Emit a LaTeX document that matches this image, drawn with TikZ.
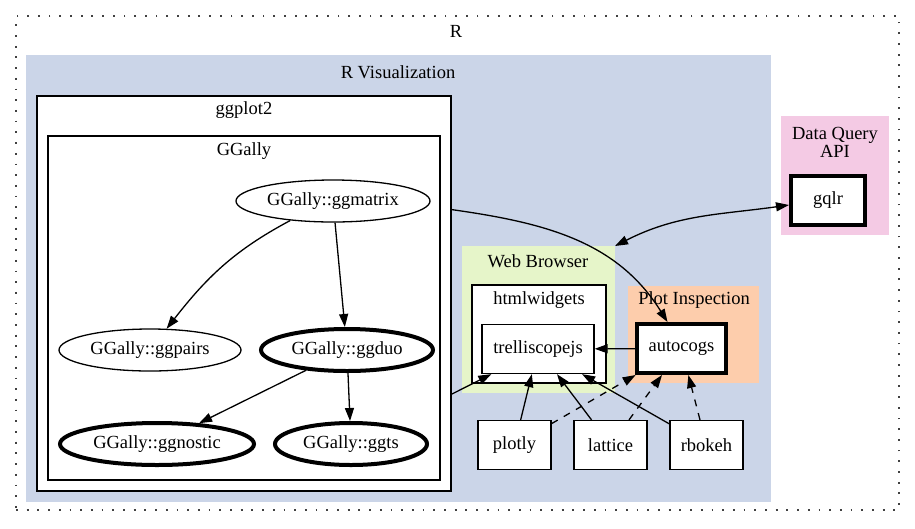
\documentclass[tikz,border=0pt]{standalone}
\usepackage{fontspec}
\setmainfont{Liberation Serif}
\usetikzlibrary{shapes.geometric,arrows.meta}
\definecolor{visblue}{HTML}{CBD5E8}
\definecolor{webgreen}{HTML}{E6F5C9}
\definecolor{insporange}{HTML}{FDCDAC}
\definecolor{apipink}{HTML}{F4CAE4}
\begin{document}
\begin{tikzpicture}[>={Triangle[length=13pt,width=9pt]}, x=1pt, y=-1pt,
  font=\fontsize{18.5}{21}\selectfont, line width=1.3pt,
  clus/.style 2 args={minimum width=#1, minimum height=#2, inner sep=0pt, outer sep=0pt},
  pkg/.style={draw, fill=white, minimum width=#1, minimum height=49pt, inner sep=0pt},
  pkg/.default=73pt,
  fn/.style={draw, ellipse, fill=white, minimum width=#1, minimum height=42pt, inner sep=0pt},
  heavy/.style={line width=4pt}]
\useasboundingbox (0,0) rectangle (915,528);
% clusters
\node[clus={883pt}{494pt}, draw=black!75, dash pattern=on 1.8pt off 8.9pt] (rbox) at (457.5,263) {};
\node[clus={745pt}{447pt}, fill=visblue] (rvis) at (398.5,278.5) {};
\node[clus={414pt}{395pt}, draw, fill=white] (ggplot2) at (244,293.5) {};
\node[clus={392pt}{344pt}, draw, fill=white] (ggally) at (244,308) {};
\node[clus={153pt}{147pt}, fill=webgreen] (webbrowser) at (538.5,319.5) {};
\node[clus={134pt}{98pt}, draw, fill=white] (htmlwidgets) at (539,334) {};
\node[clus={131pt}{97pt}, fill=insporange] (plotinsp) at (693.5,334.5) {};
\node[clus={108pt}{119pt}, fill=apipink] (dataquery) at (835,175.5) {};
\node (lblr) at (456,31) {R};
\node (lblrvis) at (398,72) {R Visualization};
\node (lblggplot2) at (244,110) {ggplot2};
\node (lblggally) at (244,151) {GGally};
\node (lblweb) at (538,261) {Web Browser};
\node (lblhtml) at (539,300) {htmlwidgets};
\node (lblinsp) at (694,300) {Plot Inspection};
\node[align=center, font=\fontsize{18.5}{18}\selectfont] (lblapi) at (835,142) {Data Query\\API};
% GGally functions
\node[fn=194pt] (ggmatrix) at (333,201) {GGally::ggmatrix};
\node[fn=182pt] (ggpairs) at (150,350) {GGally::ggpairs};
\node[fn=172pt, heavy] (ggduo) at (347,350) {GGally::ggduo};
\node[fn=194pt, heavy] (ggnostic) at (157,444) {GGally::ggnostic};
\node[fn=152pt, heavy] (ggts) at (351,444) {GGally::ggts};
% packages
\node[pkg=112pt] (trellis) at (538,349) {trelliscopejs};
\node[pkg=89pt, heavy] (autocogs) at (681.5,348.5) {autocogs};
\node[pkg] (plotly) at (514.5,445) {plotly};
\node[pkg] (lattice) at (610.5,445) {lattice};
\node[pkg] (rbokeh) at (706.5,445) {rbokeh};
\node[pkg=74pt, heavy] (gqlr) at (828,200) {gqlr};
% edges
\draw[->] ([xshift=-43pt,yshift=2pt]ggmatrix.south) to[out=208,in=52] (ggpairs);
\draw[->] (ggmatrix) -- (ggduo);
\draw[->] (ggduo) -- (ggnostic);
\draw[->] (ggduo) -- (ggts);
\draw[->] ([yshift=84pt]ggplot2.east) to[out=-8,in=122] ([xshift=-14pt]autocogs.north);
\draw[->] ([yshift=-101pt]ggplot2.east) -- ([xshift=10pt]trellis.south west);
\draw[<->] (webbrowser.north east) to[out=27,in=188] ([yshift=-5pt]gqlr.west);
\draw[->] (autocogs) -- (trellis);
\draw[->] (plotly) -- (trellis);
\draw[->] (lattice) -- (trellis);
\draw[->] (rbokeh) -- (trellis);
\draw[->, dash pattern=on 7pt off 7pt] (plotly) -- (autocogs);
\draw[->, dash pattern=on 7pt off 7pt] (lattice) -- (autocogs);
\draw[->, dash pattern=on 7pt off 7pt] (rbokeh) -- (autocogs);
\end{tikzpicture}
\end{document}
